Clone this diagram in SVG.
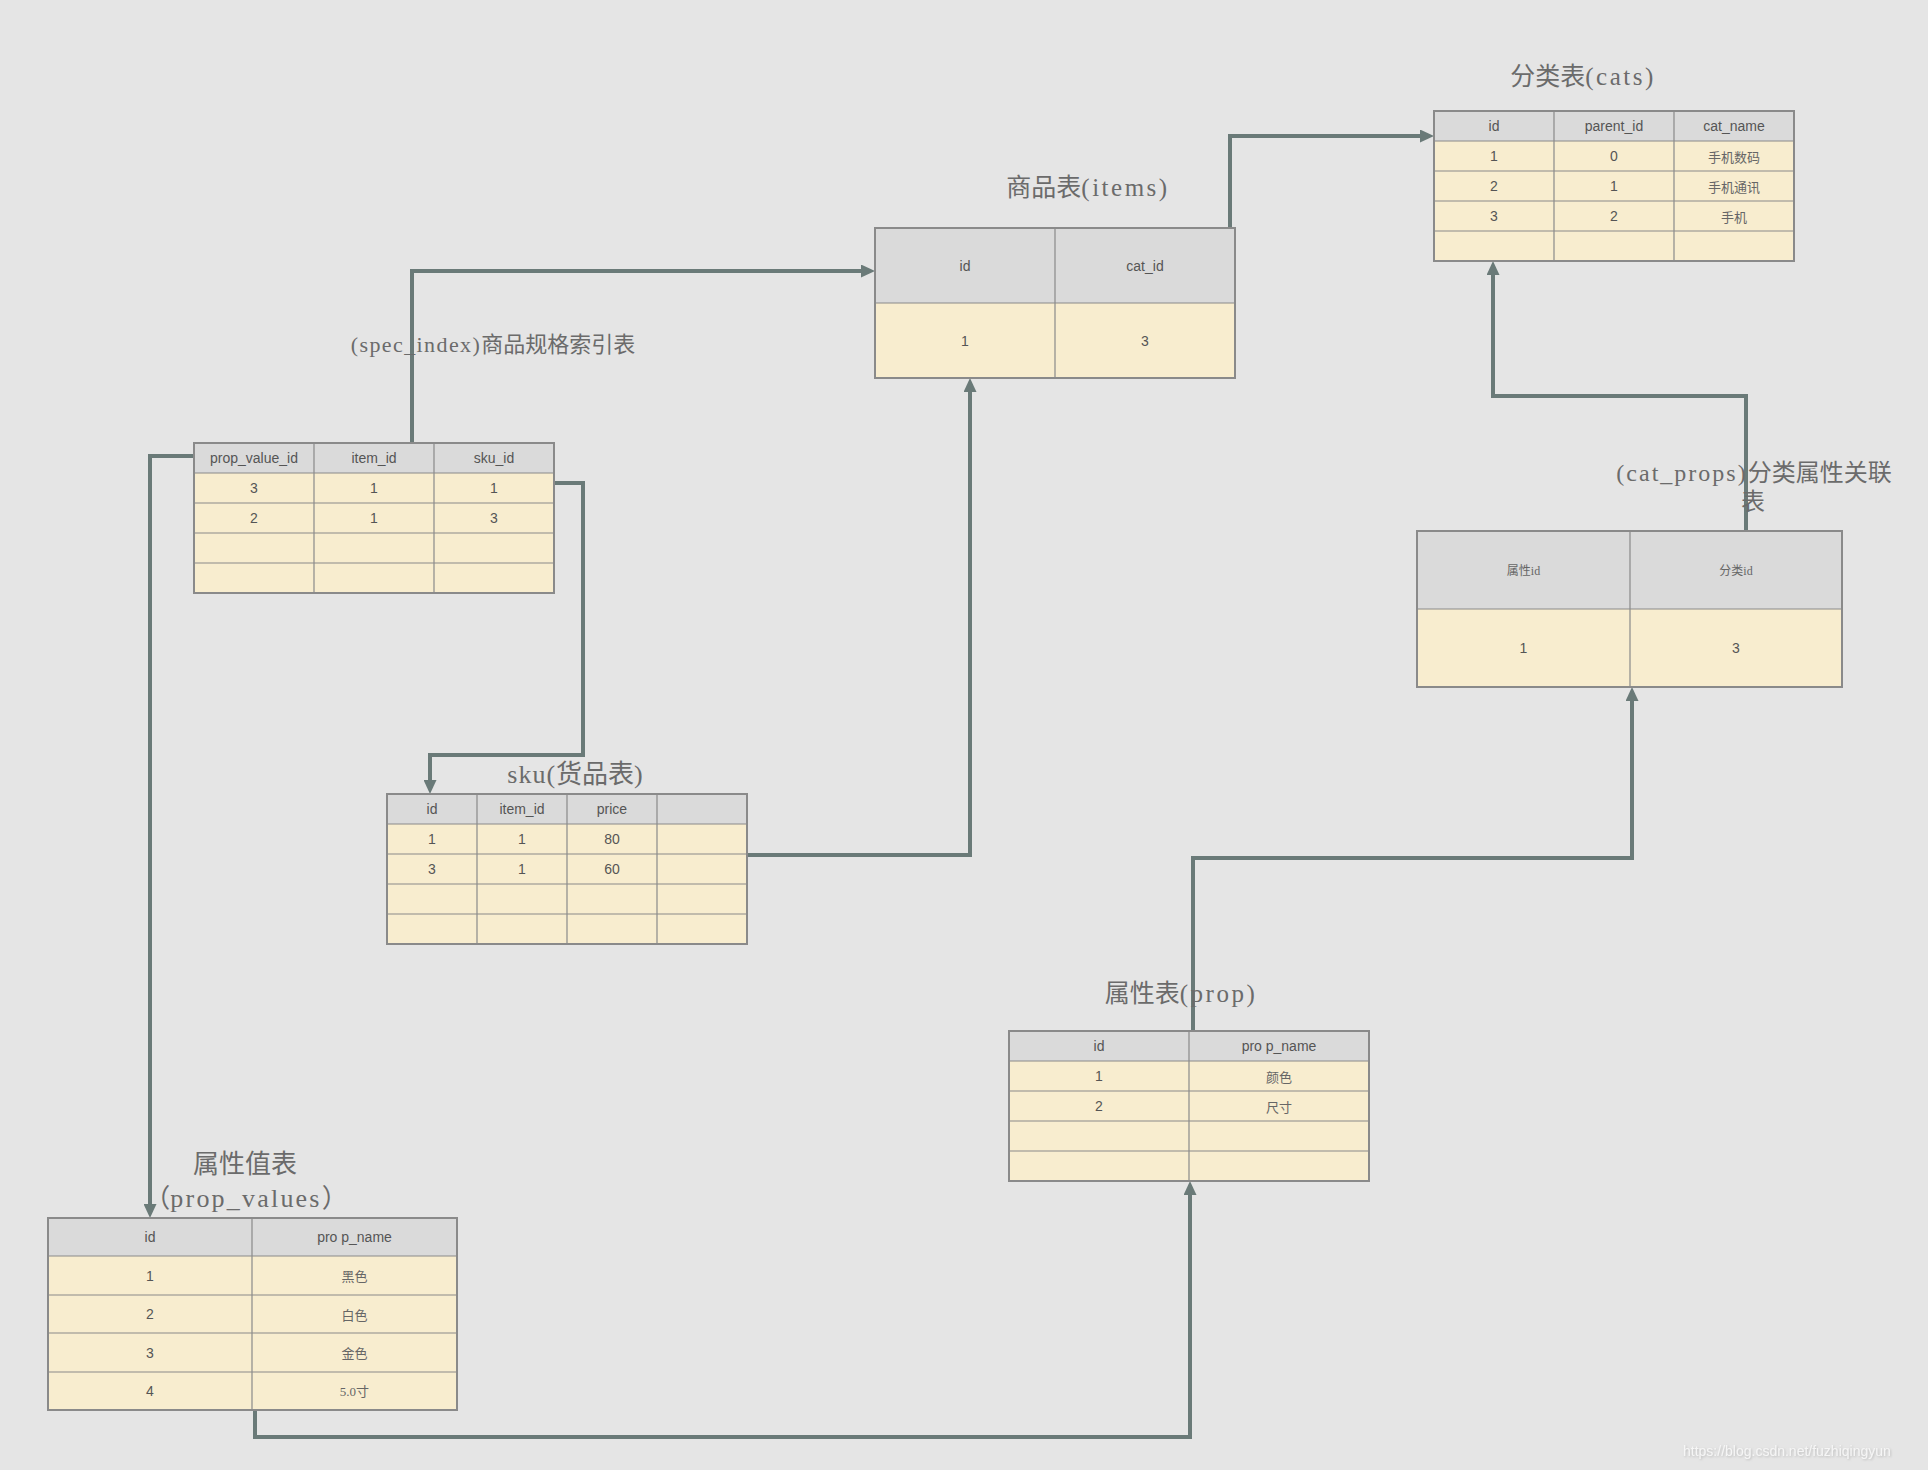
<svg xmlns="http://www.w3.org/2000/svg" width="1928" height="1470" viewBox="0 0 1928 1470">
  <defs>
    <style>
      .bg { fill: #e5e5e5; }
      .hd { fill: #dadada; }
      .bd { fill: #f8edcf; }
      .frame { fill: none; stroke: #8a8a8a; stroke-width: 2; }
      .grid { fill: none; stroke: #8a8a8a; stroke-width: 1.2; }
      .cell { font-family: "Liberation Sans", "Noto Sans CJK SC", sans-serif; font-size: 14px; fill: #555; text-anchor: middle; dominant-baseline: central; }
      .cjk { font-family: "Noto Sans CJK SC", sans-serif; font-size: 13px; fill: #666; }
      .small { font-family: "Liberation Serif", "Noto Sans CJK SC", serif; font-size: 12px; fill: #666; }
      .title { font-family: "Liberation Serif", "Noto Sans CJK SC", serif; font-size: 25px; fill: #6b6b6b; text-anchor: middle; }
      .lat { letter-spacing: 2.5px; }
      .link { fill: none; stroke: #6a7a78; stroke-width: 4; stroke-linejoin: miter; marker-end: url(#arrow); }
      .mark { font-family: "Liberation Sans", sans-serif; font-size: 14px; fill: #f6f6f6; filter: url(#soft); }
    </style>
    <marker id="arrow" viewBox="0 0 14 13" refX="2" refY="6.5" markerWidth="14" markerHeight="13" markerUnits="userSpaceOnUse" orient="auto">
      <path d="M0,0 L14,6.5 L0,13 z" fill="#6a7a78"/>
    </marker>
    <filter id="soft" x="-10%" y="-50%" width="120%" height="200%">
      <feDropShadow dx="1" dy="1" stdDeviation="0.8" flood-color="#b0b0b0" flood-opacity="0.8"/>
    </filter>
  </defs>

  <rect class="bg" x="0" y="0" width="1928" height="1470"/>

  <!-- relations between tables -->
  <g id="connectors">
    <path class="link" d="M1230,228 V136 H1422"/>
    <path class="link" d="M412,443 V271 H863"/>
    <path class="link" d="M194,456 H150 V1206"/>
    <path class="link" d="M554,483 H583 V755 H430 V782"/>
    <path class="link" d="M747,855 H970 V390"/>
    <path class="link" d="M255,1410 V1437 H1190 V1193"/>
    <path class="link" d="M1193,1031 V858 H1632 V699"/>
    <path class="link" d="M1746,531 V396 H1493 V273"/>
  </g>

  <!-- categories -->
  <g id="cats">
    <text class="title" x="1583" y="85">分类表<tspan class="lat">(cats)</tspan></text>
    <rect class="hd" x="1434" y="111" width="360" height="30"/>
    <rect class="bd" x="1434" y="141" width="360" height="120"/>
    <path class="grid" d="M1554,111 V261 M1674,111 V261 M1434,141 H1794 M1434,171 H1794 M1434,201 H1794 M1434,231 H1794"/>
    <rect class="frame" x="1434" y="111" width="360" height="150"/>
    <text class="cell" x="1494" y="126">id</text>
    <text class="cell" x="1614" y="126">parent_id</text>
    <text class="cell" x="1734" y="126">cat_name</text>
    <text class="cell" x="1494" y="156">1</text>
    <text class="cell" x="1614" y="156">0</text>
    <text class="cell cjk" x="1734" y="156">手机数码</text>
    <text class="cell" x="1494" y="186">2</text>
    <text class="cell" x="1614" y="186">1</text>
    <text class="cell cjk" x="1734" y="186">手机通讯</text>
    <text class="cell" x="1494" y="216">3</text>
    <text class="cell" x="1614" y="216">2</text>
    <text class="cell cjk" x="1734" y="216">手机</text>
  </g>

  <!-- items -->
  <g id="items">
    <text class="title" x="1088" y="196">商品表<tspan class="lat">(items)</tspan></text>
    <rect class="hd" x="875" y="228" width="360" height="75"/>
    <rect class="bd" x="875" y="303" width="360" height="75"/>
    <path class="grid" d="M1055,228 V378 M875,303 H1235"/>
    <rect class="frame" x="875" y="228" width="360" height="150"/>
    <text class="cell" x="965" y="265.5">id</text>
    <text class="cell" x="1145" y="265.5">cat_id</text>
    <text class="cell" x="965" y="340.5">1</text>
    <text class="cell" x="1145" y="340.5">3</text>
  </g>

  <!-- spec index -->
  <g id="spec_index">
    <text class="title" x="493" y="352" style="font-size:22px"><tspan style="letter-spacing:1.4px">(spec_index)</tspan>商品规格索引表</text>
    <rect class="hd" x="194" y="443" width="360" height="30"/>
    <rect class="bd" x="194" y="473" width="360" height="120"/>
    <path class="grid" d="M314,443 V593 M434,443 V593 M194,473 H554 M194,503 H554 M194,533 H554 M194,563 H554"/>
    <rect class="frame" x="194" y="443" width="360" height="150"/>
    <text class="cell" x="254" y="458">prop_value_id</text>
    <text class="cell" x="374" y="458">item_id</text>
    <text class="cell" x="494" y="458">sku_id</text>
    <text class="cell" x="254" y="488">3</text>
    <text class="cell" x="374" y="488">1</text>
    <text class="cell" x="494" y="488">1</text>
    <text class="cell" x="254" y="518">2</text>
    <text class="cell" x="374" y="518">1</text>
    <text class="cell" x="494" y="518">3</text>
  </g>

  <!-- sku -->
  <g id="sku">
    <text class="title" x="575" y="783" style="font-size:26px"><tspan style="letter-spacing:1px">sku(</tspan>货品表)</text>
    <rect class="hd" x="387" y="794" width="360" height="30"/>
    <rect class="bd" x="387" y="824" width="360" height="120"/>
    <path class="grid" d="M477,794 V944 M567,794 V944 M657,794 V944 M387,824 H747 M387,854 H747 M387,884 H747 M387,914 H747"/>
    <rect class="frame" x="387" y="794" width="360" height="150"/>
    <text class="cell" x="432" y="809">id</text>
    <text class="cell" x="522" y="809">item_id</text>
    <text class="cell" x="612" y="809">price</text>
    <text class="cell" x="432" y="839">1</text>
    <text class="cell" x="522" y="839">1</text>
    <text class="cell" x="612" y="839">80</text>
    <text class="cell" x="432" y="869">3</text>
    <text class="cell" x="522" y="869">1</text>
    <text class="cell" x="612" y="869">60</text>
  </g>

  <!-- category / property link -->
  <g id="cat_props">
    <text class="title" x="1754" y="481" style="font-size:24px"><tspan style="letter-spacing:2px">(cat_props)</tspan>分类属性关联</text>
    <text class="title" x="1753" y="510" style="font-size:24px">表</text>
    <rect class="hd" x="1417" y="531" width="425" height="78"/>
    <rect class="bd" x="1417" y="609" width="425" height="78"/>
    <path class="grid" d="M1630,531 V687 M1417,609 H1842"/>
    <rect class="frame" x="1417" y="531" width="425" height="156"/>
    <text class="cell small" x="1523.5" y="571">属性id</text>
    <text class="cell small" x="1736" y="571">分类id</text>
    <text class="cell" x="1523.5" y="648">1</text>
    <text class="cell" x="1736" y="648">3</text>
  </g>

  <!-- properties -->
  <g id="prop">
    <text class="title" x="1181" y="1002">属性表<tspan class="lat">(prop)</tspan></text>
    <rect class="hd" x="1009" y="1031" width="360" height="30"/>
    <rect class="bd" x="1009" y="1061" width="360" height="120"/>
    <path class="grid" d="M1189,1031 V1181 M1009,1061 H1369 M1009,1091 H1369 M1009,1121 H1369 M1009,1151 H1369"/>
    <rect class="frame" x="1009" y="1031" width="360" height="150"/>
    <text class="cell" x="1099" y="1046">id</text>
    <text class="cell" x="1279" y="1046">pro p_name</text>
    <text class="cell" x="1099" y="1076">1</text>
    <text class="cell cjk" x="1279" y="1076">颜色</text>
    <text class="cell" x="1099" y="1106">2</text>
    <text class="cell cjk" x="1279" y="1106">尺寸</text>
  </g>

  <!-- property values -->
  <g id="prop_values">
    <text class="title" x="245" y="1173" style="font-size:26px">属性值表</text>
    <text class="title" x="246" y="1207" style="font-size:26px">（<tspan style="letter-spacing:2.2px">prop_values</tspan>）</text>
    <rect class="hd" x="48" y="1218" width="409" height="38"/>
    <rect class="bd" x="48" y="1256" width="409" height="154"/>
    <path class="grid" d="M252,1218 V1410 M48,1256 H457 M48,1295 H457 M48,1333 H457 M48,1372 H457"/>
    <rect class="frame" x="48" y="1218" width="409" height="192"/>
    <text class="cell" x="150" y="1237">id</text>
    <text class="cell" x="354.5" y="1237">pro p_name</text>
    <text class="cell" x="150" y="1275.5">1</text>
    <text class="cell cjk" x="354.5" y="1275.5">黑色</text>
    <text class="cell" x="150" y="1314">2</text>
    <text class="cell cjk" x="354.5" y="1314">白色</text>
    <text class="cell" x="150" y="1352.5">3</text>
    <text class="cell cjk" x="354.5" y="1352.5">金色</text>
    <text class="cell" x="150" y="1391">4</text>
    <text class="cell small" x="354.5" y="1391" style="font-size:13px">5.0寸</text>
  </g>

  <text class="mark" x="1683" y="1456">https://blog.csdn.net/fuzhiqingyun</text>
</svg>
